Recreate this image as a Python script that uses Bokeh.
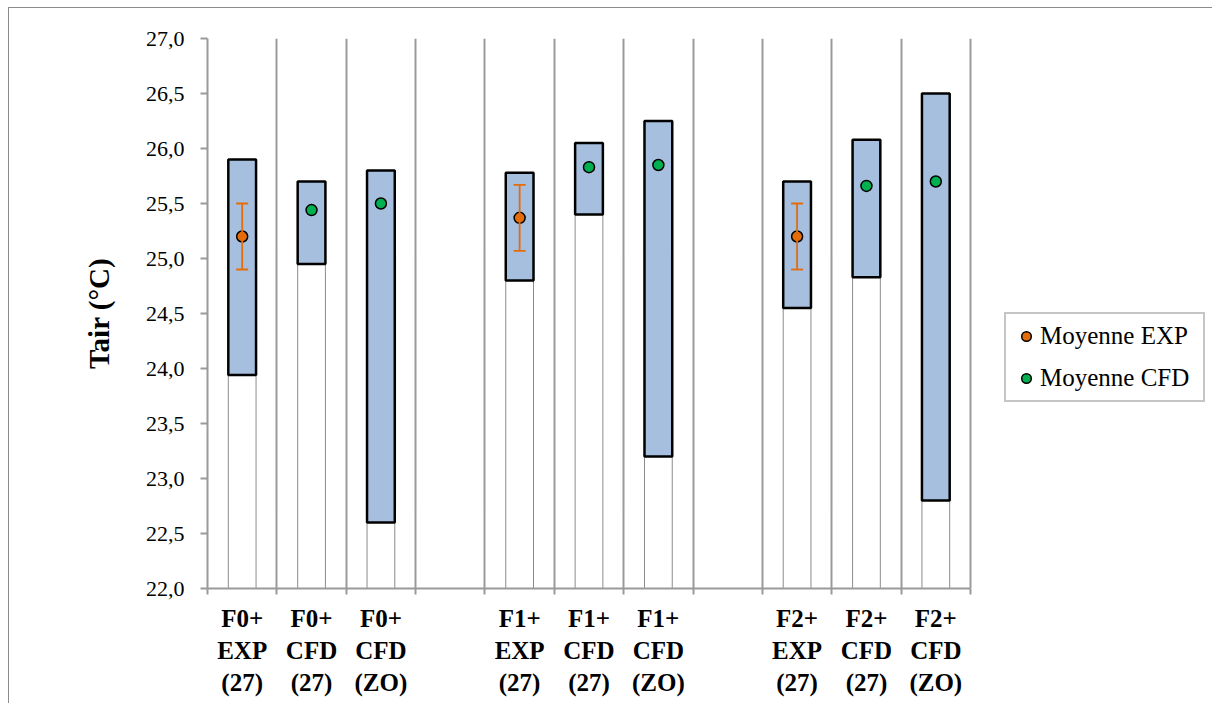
from bokeh.plotting import figure
from bokeh.models import (ColumnDataSource, Range1d, FixedTicker, Whisker, TeeHead,
                          Legend, LegendItem)
from bokeh.embed import file_html
from bokeh.resources import INLINE

# ---------------- data ----------------
categories = ["F0+\nEXP\n(27)", "F0+\nCFD\n(27)", "F0+\nCFD\n(ZO)",
              "F1+\nEXP\n(27)", "F1+\nCFD\n(27)", "F1+\nCFD\n(ZO)",
              "F2+\nEXP\n(27)", "F2+\nCFD\n(27)", "F2+\nCFD\n(ZO)"]
t_min = [23.94, 24.95, 22.60, 24.80, 25.40, 23.20, 24.55, 24.83, 22.80]
t_max = [25.90, 25.70, 25.80, 25.78, 26.05, 26.25, 25.70, 26.08, 26.50]
exp_idx = [0, 3, 6]
exp_mean = [25.20, 25.37, 25.20]
exp_err = [0.30, 0.30, 0.30]
cfd_idx = [1, 2, 4, 5, 7, 8]
cfd_mean = [25.44, 25.50, 25.83, 25.85, 25.66, 25.70]
y_ticks = [22.0, 22.5, 23.0, 23.5, 24.0, 24.5, 25.0, 25.5, 26.0, 26.5, 27.0]
n_slots = 11  # 3 groups of 3 bars separated by an empty slot

# positions: group g occupies slots 4g..4g+2
xpos = [(i // 3) * 4 + (i % 3) + 0.5 for i in range(len(categories))]

FONT = "Liberation Serif"
GRID = "#9a9a9a"
BLUE = "#a7bfde"
ORANGE = "#e46c0a"
GREEN = "#00b050"

# layout: plot area 763 px wide for the 11 slots; the frame continues to the
# right edge (blank) so that the legend can sit inside it
W, H = 1204, 696
LEFT, TOP, BOTTOM = 198, 30, 116
AREA_W = 763
x_end = n_slots * (W - LEFT) / AREA_W

p = figure(width=W, height=H, output_backend="svg", toolbar_location=None,
           x_range=Range1d(0, x_end), y_range=Range1d(22, 27))
p.min_border_left = LEFT
p.min_border_right = 0
p.min_border_top = TOP
p.min_border_bottom = BOTTOM
p.outline_line_color = None
p.background_fill_color = "white"
p.border_fill_color = "white"
p.styles = {"border-top": "1px solid #8c8c8c", "border-left": "1px solid #8c8c8c",
            "margin-left": "8px", "margin-top": "7px"}

# bars
src = ColumnDataSource(dict(x=xpos, lo=t_min, hi=t_max, base=[y_ticks[0]] * len(xpos)))
p.vbar(x="x", width=0.4, bottom="base", top="lo", source=src,
       fill_color="white", line_color="#8c8c8c", line_width=1)
p.vbar(x="x", width=0.4, bottom="lo", top="hi", source=src,
       fill_color=BLUE, line_color="black", line_width=2.5)

# error bars + means
exp_src = ColumnDataSource(dict(
    x=[xpos[i] for i in exp_idx], m=exp_mean,
    up=[m + e for m, e in zip(exp_mean, exp_err)],
    lo=[m - e for m, e in zip(exp_mean, exp_err)]))
w = Whisker(base="x", upper="up", lower="lo", source=exp_src, dimension="height",
            line_color=ORANGE, line_width=1.8, level="glyph",
            upper_head=TeeHead(size=12, line_color=ORANGE, line_width=1.8),
            lower_head=TeeHead(size=12, line_color=ORANGE, line_width=1.8))
p.add_layout(w)
r_exp = p.scatter(x="x", y="m", source=exp_src, size=11, fill_color=ORANGE,
                  line_color="black", line_width=1.5)
cfd_src = ColumnDataSource(dict(x=[xpos[i] for i in cfd_idx], m=cfd_mean))
r_cfd = p.scatter(x="x", y="m", source=cfd_src, size=11, fill_color=GREEN,
                  line_color="black", line_width=1.5)

# grids
p.ygrid.grid_line_color = None
p.xgrid.ticker = FixedTicker(ticks=list(range(n_slots + 1)))
p.xgrid.grid_line_color = GRID
p.xgrid.grid_line_width = 2

# x axis
xa = p.xaxis[0]
xa.bounds = (0, n_slots)
xa.ticker = FixedTicker(ticks=xpos, minor_ticks=list(range(n_slots + 1)))
xa.major_label_overrides = {x: c for x, c in zip(xpos, categories)}
xa.major_tick_line_color = None
xa.minor_tick_line_color = GRID
xa.minor_tick_line_width = 2
xa.minor_tick_out = 6
xa.minor_tick_in = 0
xa.axis_line_color = GRID
xa.axis_line_width = 2
xa.major_label_text_font = FONT
xa.major_label_text_font_style = "bold"
xa.major_label_text_font_size = "25px"
xa.major_label_text_color = "black"
xa.major_label_standoff = 10

# y axis
ya = p.yaxis[0]
ya.ticker = FixedTicker(ticks=y_ticks, minor_ticks=[])
ya.major_label_overrides = {t: f"{t:.1f}".replace(".", ",") for t in y_ticks}
ya.major_tick_line_color = GRID
ya.major_tick_line_width = 2
ya.major_tick_out = 7
ya.major_tick_in = 0
ya.minor_tick_line_color = None
ya.axis_line_color = GRID
ya.axis_line_width = 2
ya.major_label_text_font = FONT
ya.major_label_text_font_size = "22px"
ya.major_label_text_color = "black"
ya.major_label_standoff = 16
ya.axis_label = "Tair (°C)"
ya.axis_label_text_font = FONT
ya.axis_label_text_font_style = "bold"
ya.axis_label_text_font_size = "29px"
ya.axis_label_text_color = "black"
ya.axis_label_standoff = 28

# legend (inside the blank right part of the frame)
legend = Legend(items=[LegendItem(label="Moyenne EXP", renderers=[r_exp]),
                       LegendItem(label="Moyenne CFD", renderers=[r_cfd])],
                location=(797, 186))
legend.label_text_font = FONT
legend.label_text_font_size = "25px"
legend.label_text_color = "black"
legend.border_line_color = "#8c8c8c"
legend.border_line_width = 2
legend.glyph_width = 24
legend.glyph_height = 24
legend.label_standoff = 2
legend.label_width = 155
legend.padding = 8
legend.spacing = 14
legend.margin = 0
legend.background_fill_alpha = 1
p.add_layout(legend)

open("out.html", "w").write(file_html(p, INLINE))
